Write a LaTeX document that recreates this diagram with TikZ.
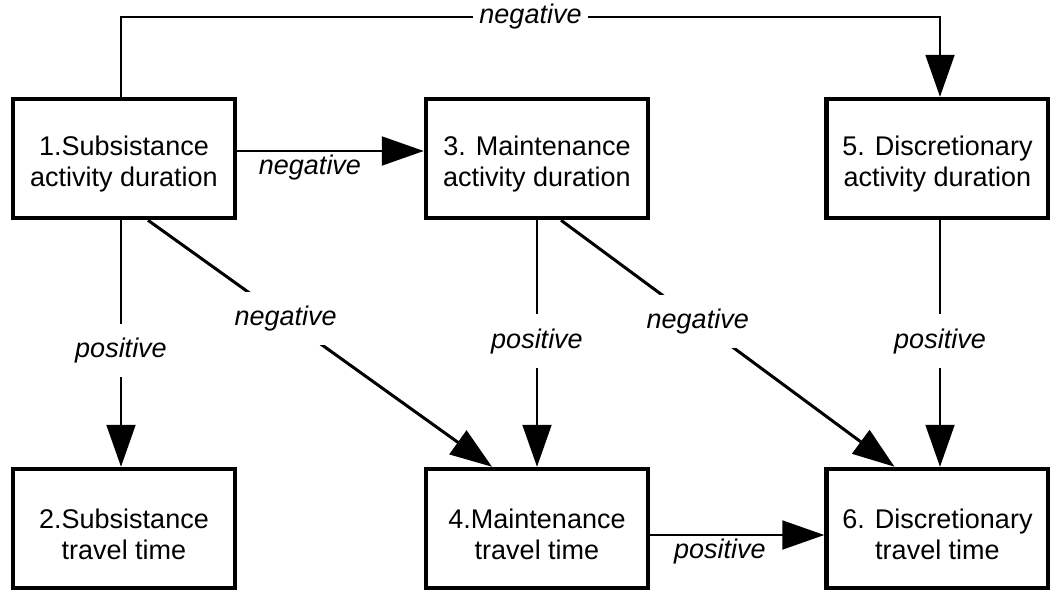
\documentclass[tikz,border=0pt]{standalone}
\usepackage{fontspec}
\setmainfont{Liberation Sans}
\usetikzlibrary{arrows.meta}
\begin{document}
\begin{tikzpicture}[x=1pt,y=-1pt,
  box/.style={draw=black, line width=4.5pt, minimum width=222pt, minimum height=119pt, inner sep=0pt},
  boxtext/.style={align=center, font=\fontsize{27}{31}\selectfont, inner sep=0pt},
  conn/.style={line width=2pt, -{Triangle[length=42pt,width=29pt]}},
  diag/.style={line width=3pt, -{Triangle[length=42pt,width=29pt]}},
  lbl/.style={fill=white, font=\fontsize{27}{31}\selectfont\itshape, inner xsep=6pt, inner ysep=14pt},
  lblb/.style={font=\fontsize{27}{31}\selectfont\itshape, inner sep=3pt}]
\useasboundingbox (0,0) rectangle (1050,592);
% boxes
\node[box] (n1) at (124,158.5) {};
\node[box] (n3) at (537,158.5) {};
\node[box] (n5) at (937.5,158.5) {};
\node[box] (n2) at (124,528.5) {};
\node[box] (n4) at (537,528.5) {};
\node[box] (n6) at (937.5,528.5) {};
\node[boxtext] (t1) at ([yshift=-6pt]n1.center) {1.Subsistance\\activity duration};
\node[boxtext] (t3) at ([yshift=-6pt]n3.center) {3. Maintenance\\activity duration};
\node[boxtext] (t5) at ([yshift=-6pt]n5.center) {5. Discretionary\\activity duration};
\node[boxtext] (t2) at ([yshift=-6pt]n2.center) {2.Subsistance\\travel time};
\node[boxtext] (t4) at ([yshift=-6pt]n4.center) {4.Maintenance\\travel time};
\node[boxtext] (t6) at ([yshift=-6pt]n6.center) {6. Discretionary\\travel time};
% top connector
\coordinate (c1) at (121,17);
\coordinate (c2) at (940,17);
\draw[conn] (n1.north -| c1) -- (c1) -- node[lbl, pos=0.5, inner ysep=4pt] {negative} (c2) -- (c2 |- n5.north);
% 1 -> 3
\draw[conn] ([yshift=7.5pt]n1.east) -- node[lblb, pos=0.39, anchor=north] {negative} ([yshift=7.5pt]n3.west);
% verticals
\draw[conn] ([xshift=-3pt]n1.south) -- node[lbl, pos=0.53] {positive} ([xshift=-3pt]n2.north);
\draw[conn] (n3.south) -- node[lbl, pos=0.49] {positive} (n4.north);
\draw[conn] ([xshift=2.5pt]n5.south) -- node[lbl, pos=0.49] {positive} ([xshift=2.5pt]n6.north);
% diagonals
\draw[diag] ([xshift=24pt]n1.south) -- node[lbl, pos=0.4] {negative} ([xshift=-45pt]n4.north);
\draw[diag] ([xshift=24pt]n3.south) -- node[lbl, pos=0.41] {negative} ([xshift=-43pt]n6.north);
% 4 -> 6
\draw[conn] ([yshift=-6.5pt]n4.east) -- node[lblb, pos=0.4, anchor=north] {positive} ([yshift=-6.5pt]n6.west);
\end{tikzpicture}
\end{document}
